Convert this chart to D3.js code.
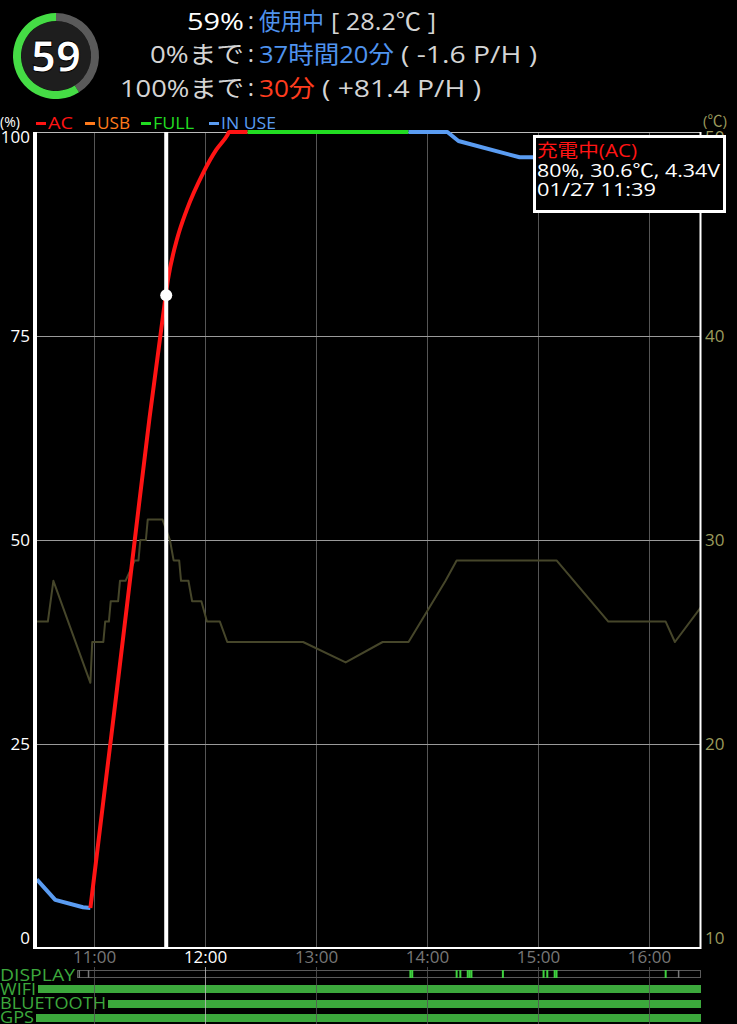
<!DOCTYPE html>
<html>
<head>
<meta charset="utf-8">
<script src="https://cdn.jsdelivr.net/npm/d3@7"></script>
<style>
	body { margin: 0; background: #000; }
	svg { display: block; }
	text { font-family: "Open Sans", "Noto Sans CJK JP", sans-serif; }
</style>
</head>
<body>
<script>
(function() {

	// ---- data ----
	var batteryTimes  = ["10:29","10:39","10:54","10:58","11:05","11:12","11:22","11:30","11:37","11:40","11:45","11:50","11:59","12:06","12:12","12:13","12:23","13:50","14:11","14:17","14:50","14:57","15:10"];
	var batteryLevels = [8.4, 5.9, 5.0, 4.9, 18, 31, 50, 65, 77, 82, 87, 90.4, 95, 97.8, 99.6, 100, 100, 100, 100, 98.9, 96.9, 96.9, 96.6];
	var batteryStates = ["IN USE","IN USE","IN USE","AC","AC","AC","AC","AC","AC","AC","AC","AC","AC","AC","AC","AC","FULL","IN USE","IN USE","IN USE","IN USE","IN USE","IN USE"];

	var tempTimes  = ["10:28","10:35","10:38","10:58","10:59","11:05","11:06","11:08","11:09","11:13","11:14","11:17","11:22","11:24","11:25","11:28","11:29","11:37","11:41","11:43","11:46","11:47","11:51","11:53","11:58","12:01","12:08","12:12","12:53","13:16","13:36","13:50","14:10","14:16","15:10","15:38","16:09","16:14","16:28"];
	var tempValues = [26, 26, 28, 23, 25, 25, 26, 26, 27, 27, 28, 28, 29, 29, 30, 30, 31, 31, 30, 29, 29, 28, 28, 27, 27, 26, 26, 25, 25, 24, 25, 25, 28, 29, 29, 26, 26, 25, 26.7];

	var displayOnTimes  = ["13:51","13:52","14:16","14:18","14:22","14:23","14:24","14:41","15:03","15:05","15:09","15:10","16:09"];
	var displayDimTimes = ["10:52","10:57","16:16"];

	var statusRows = ["DISPLAY", "WIFI", "BLUETOOTH", "GPS"];

	var pctTicks  = [0, 25, 50, 75, 100];
	var tempTicks = [10, 20, 30, 40, 50];
	var legendNames = ["AC", "USB", "FULL", "IN USE"];

	var gaugeValue = 59;
	var headerLeft = ["59%", "0%まで", "100%まで"];
	var headerMain = ["使用中", "37時間20分", "30分"];
	var headerTail = ["[ 28.2℃ ]", "( -1.6 P/H )", "( +81.4 P/H )"];

	var cursorTime = "11:39", cursorLevel = 80;
	var tooltipLines = ["充電中(AC)", "80%, 30.6℃, 4.34V", "01/27 11:39"];
	var highlightHour = "12:00";

	// ---- layout / style ----
	var W = 737, H = 1024;
	var plot = {left: 36, right: 701, top: 132, bottom: 948};
	var stateColor = {"AC": "#ff1414", "USB": "#ff7b1c", "FULL": "#22dd22", "IN USE": "#5a9cf2"};
	var headerMainColor = ["#4f93ee", "#4f93ee", "#ff3c1e"];
	var headerLeftColor = ["#ffffff", "#d4d4d4", "#d4d4d4"];
	var headerLeftW = [57, 94, 124], headerMainW = [65, 135, 56], headerTailW = [105, 136, 159];
	var headerBase = [30, 63, 97];
	var legendDashX = [36, 85, 141, 209], legendTextW = [25, 33, 41, 55];
	var rowLabelW = [75, 36, 106, 34], rowBase = [981, 995, 1009, 1023], rowBarY = [970, 985, 1000, 1014];
	var tipW = [100, 183, 119];
	var green = "#3ca83c";

	var parseT = d3.timeParse("%H:%M");
	var parseS = d3.timeParse("%H:%M:%S");
	var fmt = d3.timeFormat("%H:%M");

	var x = d3.scaleTime()
		.domain([parseS("10:28:36"), parseS("16:28:06")])
		.range([plot.left, plot.right]);
	var y = d3.scaleLinear().domain([0, 100]).range([plot.bottom, plot.top]);
	var yT = d3.scaleLinear().domain([10, 50]).range([plot.bottom, plot.top]);

	var svg = d3.select("body").append("svg")
		.attr("width", W)
		.attr("height", H)
		.style("background", "#000");

	svg.append("clipPath").attr("id", "plotclip")
		.append("rect")
			.attr("x", plot.left).attr("y", plot.top - 4)
			.attr("width", plot.right - plot.left).attr("height", plot.bottom - plot.top + 4);

	// ---- header ----
	var gauge = svg.append("g").attr("transform", "translate(56,56)");
	var arc = d3.arc().innerRadius(35).outerRadius(43);
	gauge.append("circle").attr("r", 35).attr("fill", "#1e1e1e");
	gauge.append("path")
		.attr("d", arc({startAngle: 0, endAngle: 2 * Math.PI * (1 - gaugeValue / 100)}))
		.attr("fill", "#5a5a5a");
	gauge.append("path")
		.attr("d", arc({startAngle: 2 * Math.PI * (1 - gaugeValue / 100), endAngle: 2 * Math.PI}))
		.attr("fill", "#45dc45");
	gauge.append("text")
		.attr("y", 16)
		.attr("text-anchor", "middle")
		.attr("font-size", 43)
		.attr("font-weight", "bold")
		.attr("fill", "#fff")
		.attr("stroke", "#000").attr("stroke-width", 1)
		.attr("textLength", 50).attr("lengthAdjust", "spacingAndGlyphs")
		.text(gaugeValue);

	headerLeft.forEach(function(d, i) {
		var g = svg.append("g").attr("font-size", 24);
		g.append("text")
			.attr("x", 244).attr("y", headerBase[i])
			.attr("text-anchor", "end")
			.attr("fill", headerLeftColor[i])
			.attr("textLength", headerLeftW[i]).attr("lengthAdjust", "spacingAndGlyphs")
			.text(d);
		g.append("text")
			.attr("x", 251).attr("y", headerBase[i] - 1)
			.attr("text-anchor", "middle")
			.attr("fill", "#d4d4d4")
			.text(":");
		g.append("text")
			.attr("x", 259).attr("y", headerBase[i])
			.attr("fill", headerMainColor[i])
			.attr("textLength", headerMainW[i]).attr("lengthAdjust", "spacingAndGlyphs")
			.text(headerMain[i]);
		g.append("text")
			.attr("x", 259 + headerMainW[i] + 7).attr("y", headerBase[i])
			.attr("fill", "#d4d4d4")
			.attr("textLength", headerTailW[i]).attr("lengthAdjust", "spacingAndGlyphs")
			.text(headerTail[i]);
	});

	// ---- legend ----
	svg.append("text")
		.attr("x", 0).attr("y", 127)
		.attr("font-size", 14)
		.attr("fill", "#fff")
		.text("(%)");
	svg.append("text")
		.attr("x", 703).attr("y", 126)
		.attr("font-size", 15)
		.attr("fill", "#9a9a5c")
		.text("(℃)");

	var legend = svg.selectAll(".legend")
		.data(legendNames)
		.enter()
		.append("g")
			.attr("class", "legend");
	legend.append("rect")
		.attr("x", (d, i) => legendDashX[i])
		.attr("y", 122)
		.attr("width", 10)
		.attr("height", 3)
		.attr("fill", d => stateColor[d]);
	legend.append("text")
		.attr("x", (d, i) => legendDashX[i] + 12)
		.attr("y", 129)
		.attr("font-size", 16)
		.attr("fill", d => stateColor[d])
		.attr("textLength", (d, i) => legendTextW[i]).attr("lengthAdjust", "spacingAndGlyphs")
		.text(d => d);

	// ---- grid ----
	var hours = x.ticks(d3.timeHour.every(1));

	svg.selectAll(".vgrid")
		.data(hours)
		.enter()
		.append("line")
			.attr("class", "vgrid")
			.attr("x1", d => Math.round(x(d)) + 0.5)
			.attr("x2", d => Math.round(x(d)) + 0.5)
			.attr("y1", plot.top)
			.attr("y2", plot.bottom)
			.attr("stroke", "#555");

	svg.selectAll(".hgrid")
		.data([25, 50, 75])
		.enter()
		.append("line")
			.attr("class", "hgrid")
			.attr("x1", plot.left)
			.attr("x2", plot.right)
			.attr("y1", d => Math.round(y(d)) + 0.5)
			.attr("y2", d => Math.round(y(d)) + 0.5)
			.attr("stroke", "#9a9a9a");

	// ---- temperature ----
	var temps = tempTimes.map((t, i) => ({t: parseT(t), v: tempValues[i]}));
	svg.append("path")
		.datum(temps)
		.attr("clip-path", "url(#plotclip)")
		.attr("fill", "none")
		.attr("stroke", "#46462a")
		.attr("stroke-width", 2)
		.attr("stroke-linejoin", "round")
		.attr("d", d3.line().x(d => x(d.t)).y(d => yT(d.v)));

	// ---- battery, split by state ----
	var segments = [], cur = null;
	batteryTimes.forEach(function(t, i) {
		var pt = {t: parseT(t), v: batteryLevels[i]};
		if (!cur || cur.state != batteryStates[i]) {
			if (cur) cur.pts.push(pt);
			cur = {state: batteryStates[i], pts: []};
			segments.push(cur);
		}
		cur.pts.push(pt);
	});
	segments = segments.filter(s => s.pts.length > 1);

	// charging is drawn smooth, discharging as straight pieces
	function batteryLine(s) {
		return d3.line()
			.curve(s.state == "AC" ? d3.curveMonotoneX : d3.curveLinear)
			.x(d => x(d.t))
			.y(d => y(d.v))(s.pts);
	}

	// frame
	svg.append("line")
		.attr("x1", plot.left).attr("x2", plot.right)
		.attr("y1", plot.top + 0.5).attr("y2", plot.top + 0.5)
		.attr("stroke", "#bbb");

	svg.selectAll(".battery")
		.data(segments)
		.enter()
		.append("path")
			.attr("class", "battery")
			.attr("clip-path", "url(#plotclip)")
			.attr("fill", "none")
			.attr("stroke", d => stateColor[d.state])
			.attr("stroke-width", 4)
			.attr("stroke-linejoin", "round")
			.attr("d", batteryLine);

	svg.append("rect")
		.attr("x", 33).attr("y", plot.top)
		.attr("width", 4).attr("height", plot.bottom - plot.top + 1)
		.attr("fill", "#fff");
	svg.append("line")
		.attr("x1", plot.right - 0.5).attr("x2", plot.right - 0.5)
		.attr("y1", plot.top).attr("y2", plot.bottom + 1)
		.attr("stroke", "#fff").attr("stroke-width", 2);
	svg.append("line")
		.attr("x1", 33).attr("x2", plot.right)
		.attr("y1", plot.bottom).attr("y2", plot.bottom)
		.attr("stroke", "#fff").attr("stroke-width", 2);

	// cursor
	var cx = x(parseT(cursorTime));
	svg.append("line")
		.attr("x1", cx).attr("x2", cx)
		.attr("y1", plot.top).attr("y2", plot.bottom)
		.attr("stroke", "#fff").attr("stroke-width", 4);
	svg.append("circle")
		.attr("cx", cx).attr("cy", y(cursorLevel))
		.attr("r", 6)
		.attr("fill", "#fff");

	// ---- axes ----
	function clampY(d, sc) {
		return Math.min(Math.max(sc(d), plot.top + 5), plot.bottom - 10) - sc(d);
	}

	var leftAxis = svg.append("g")
		.attr("transform", "translate(33,0)")
		.call(d3.axisLeft(y).tickValues(pctTicks).tickSize(0).tickPadding(3));
	leftAxis.select(".domain").remove();
	leftAxis.selectAll("text")
		.attr("y", d => clampY(d, y))
		.attr("font-size", 17)
		.attr("font-family", null)
		.attr("fill", "#fff");

	var rightAxis = svg.append("g")
		.attr("transform", "translate(" + plot.right + ",0)")
		.call(d3.axisRight(yT).tickValues(tempTicks).tickSize(0).tickPadding(4));
	rightAxis.select(".domain").remove();
	rightAxis.selectAll("text")
		.attr("y", d => clampY(d, yT))
		.attr("font-size", 17)
		.attr("font-family", null)
		.attr("fill", "#9a9a5c");

	var bottomAxis = svg.append("g")
		.attr("transform", "translate(0," + plot.bottom + ")")
		.call(d3.axisBottom(x).tickValues(hours).tickFormat(fmt).tickSize(0).tickPadding(3));
	bottomAxis.select(".domain").remove();
	bottomAxis.selectAll("text")
		.attr("font-size", 17)
		.attr("font-family", null)
		.attr("fill", d => fmt(d) == highlightHour ? "#fff" : "#777");

	// ---- tooltip ----
	svg.append("rect")
		.attr("x", 534.5).attr("y", 136.5)
		.attr("width", 190).attr("height", 75)
		.attr("fill", "#000")
		.attr("stroke", "#fff").attr("stroke-width", 3);
	svg.selectAll(".tip")
		.data(tooltipLines)
		.enter()
		.append("text")
			.attr("class", "tip")
			.attr("x", 537)
			.attr("y", (d, i) => 157 + i * 19.5)
			.attr("font-size", 18)
			.attr("fill", (d, i) => i == 0 ? stateColor["AC"] : "#fff")
			.attr("textLength", (d, i) => tipW[i]).attr("lengthAdjust", "spacingAndGlyphs")
			.text(d => d);

	// ---- status rows ----
	var xEnd = plot.right;
	statusRows.forEach(function(name, i) {
		var barX = rowLabelW[i] + 2;
		svg.append("text")
			.attr("x", 0).attr("y", rowBase[i])
			.attr("font-size", 17)
			.attr("fill", green)
			.attr("textLength", rowLabelW[i]).attr("lengthAdjust", "spacingAndGlyphs")
			.text(name);
		if (name == "DISPLAY") {
			svg.append("rect")
				.attr("x", barX + 0.5).attr("y", rowBarY[i] + 0.5)
				.attr("width", xEnd - barX - 1).attr("height", 7)
				.attr("fill", "none")
				.attr("stroke", "#5a5a5a");
			svg.selectAll(".dispDim")
				.data(displayDimTimes)
				.enter()
				.append("rect")
					.attr("x", d => x(parseT(d)) - 0.75)
					.attr("y", rowBarY[i])
					.attr("width", 1.5).attr("height", 8)
					.attr("fill", "#777");
			svg.selectAll(".dispOn")
				.data(displayOnTimes)
				.enter()
				.append("rect")
					.attr("x", d => x(parseT(d)) - 1)
					.attr("y", rowBarY[i])
					.attr("width", 2).attr("height", 8)
					.attr("fill", "#3fd13f");
		} else {
			svg.append("rect")
				.attr("x", barX).attr("y", rowBarY[i])
				.attr("width", xEnd - barX).attr("height", 8)
				.attr("fill", green);
		}
	});

	svg.selectAll(".bgrid")
		.data(hours)
		.enter()
		.append("line")
			.attr("x1", d => Math.round(x(d)) + 0.5)
			.attr("x2", d => Math.round(x(d)) + 0.5)
			.attr("y1", 967)
			.attr("y2", H)
			.attr("stroke", d => fmt(d) == highlightHour ? "#bbb" : "#555")
			.attr("stroke-opacity", 0.8);

}) ();
</script>
</body>
</html>
